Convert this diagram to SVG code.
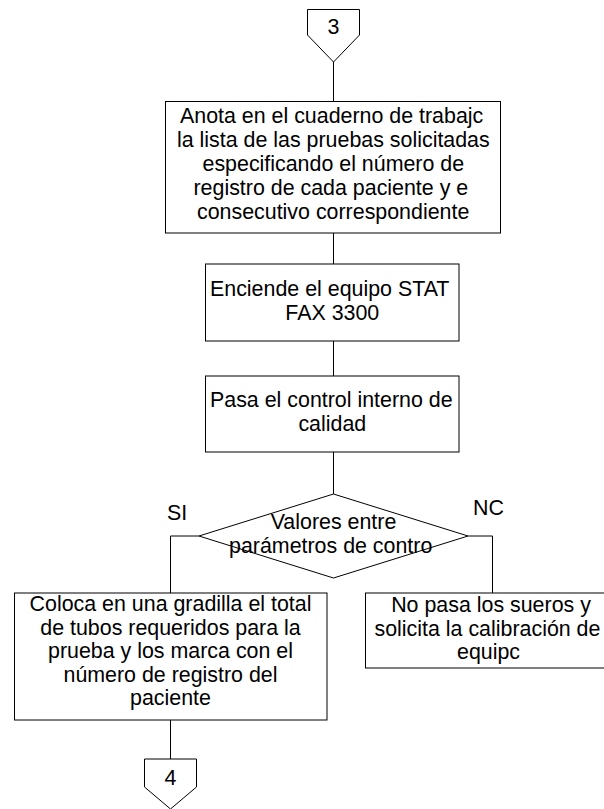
<svg xmlns="http://www.w3.org/2000/svg" width="604" height="809" viewBox="0 0 604 809">
<style>
.s{fill:#fff;stroke:#000;stroke-width:1}
.c{fill:none;stroke:#000;stroke-width:1}
text{font-family:"Liberation Sans",Arial,sans-serif;font-size:21.4px;fill:#000}
.m{text-anchor:middle}
</style>
<rect width="604" height="809" fill="#fff"/>
<g id="connectors">
<path class="c" d="M333.5,62 V101.5"/>
<path class="c" d="M333.5,233 V264"/>
<path class="c" d="M333.5,341 V376"/>
<path class="c" d="M333.5,452 V494"/>
<path class="c" d="M199,536 H170.5 V593"/>
<path class="c" d="M468,536 H492.5 V593"/>
<path class="c" d="M170.5,720 V759"/>
</g>
<g id="conn3">
<polygon class="s" points="307.5,9.5 359.5,9.5 359.5,35 333.5,62 307.5,35"/>
<text class="m" x="333.5" y="34" font-size="20">3</text>
</g>
<g id="box1">
<rect class="s" x="165.5" y="101.5" width="335" height="131.5"/>
<text x="180" y="123">Anota en el cuaderno de trabajc</text>
<text x="177" y="147">la lista de las pruebas solicitadas</text>
<text x="202.5" y="171">especificando el número de</text>
<text x="193.5" y="195">registro de cada paciente y e</text>
<text x="197" y="219">consecutivo correspondiente</text>
</g>
<g id="box2">
<rect class="s" x="205.5" y="264" width="253.5" height="77"/>
<text x="210" y="296">Enciende el equipo STAT</text>
<text class="m" x="332.3" y="320">FAX 3300</text>
</g>
<g id="box3">
<rect class="s" x="205.5" y="376" width="253.5" height="76"/>
<text x="210" y="407">Pasa el control interno de</text>
<text class="m" x="332.3" y="431">calidad</text>
</g>
<g id="decision">
<polygon class="s" points="333.5,494 468,536 333.5,578 199,536"/>
<text class="m" x="333.5" y="529">Valores entre</text>
<text x="229" y="553">parámetros de contro</text>
</g>
<g id="labels">
<text x="167" y="520" font-size="20">SI</text>
<text x="473" y="515" font-size="20">NC</text>
</g>
<g id="box4">
<rect class="s" x="14.5" y="593" width="312.5" height="127"/>
<text class="m" x="170.5" y="611">Coloca en una gradilla el total</text>
<text class="m" x="170.5" y="634.5">de tubos requeridos para la</text>
<text class="m" x="170.5" y="658">prueba y los marca con el</text>
<text class="m" x="170.5" y="681.5">número de registro del</text>
<text class="m" x="170.5" y="705">paciente</text>
</g>
<g id="box5">
<rect class="s" x="365.5" y="593" width="250" height="75"/>
<text class="m" x="491" y="612">No pasa los sueros y</text>
<text x="374.5" y="635.5">solicita la calibración de</text>
<text x="457" y="659">equipc</text>
</g>
<g id="conn4">
<polygon class="s" points="144.5,759 196.5,759 196.5,787 170.5,809 144.5,787"/>
<text class="m" x="170.5" y="785" font-size="19">4</text>
</g>
</svg>
